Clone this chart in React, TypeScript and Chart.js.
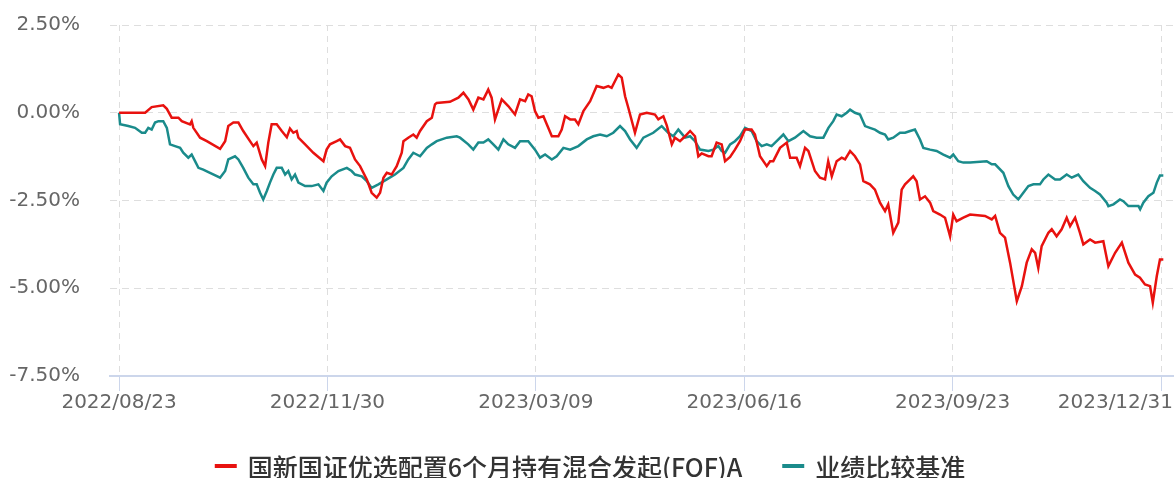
import React, { useEffect, useRef } from "react";
import { Chart, registerables } from "chart.js";

Chart.register(...registerables);

const fundLabel = "国新国证优选配置6个月持有混合发起(FOF)A";
const benchLabel = "业绩比较基准";

// x tick positions: days since 2022/08/23
const tickDays = [0, 99, 198, 297, 396, 495];
const tickLabels = ["2022/08/23", "2022/11/30", "2023/03/09", "2023/06/16", "2023/09/23", "2023/12/31"];

const yTicks = [2.5, 0, -2.5, -5, -7.5];

// Fund: day offset since 2022/08/23, cumulative return (%)
const fundDays = [
  0, 12.4, 15.5, 21, 22.7, 25, 28.2, 29.8, 33.7, 34.5, 35.3, 38.5, 41.7, 48, 50.4, 51.9, 54.3, 56.7, 59, 62.2,
  63.8, 65.4, 67.8, 69.4, 70.9, 72.5, 74.9, 77.3, 79.7, 81.2, 82.8, 84.4, 85.2, 88.4, 92.3, 97.1, 98.6, 100.2, 103.4, 105,
  107.4, 109.7, 112.1, 114.5, 117.7, 120, 122.4, 124, 125.6, 127.2, 129.5, 131.9, 134.3, 135.1, 137.4, 139.8, 141.4, 143, 146.2, 148.6,
  150.1, 150.9, 157.2, 161.2, 163.6, 166, 168.3, 170.7, 173.1, 175.4, 177, 178.6, 181.8, 184.9, 188.1, 190.5, 192.9, 194.4, 196, 197.6,
  199.2, 201.6, 203.2, 205.6, 208.7, 210.3, 211.9, 214.3, 216.6, 218.2, 220.6, 223.8, 226.9, 230.1, 232.4, 234, 237.2, 238.8, 240.4, 241.9,
  245.1, 247.5, 250.7, 254.6, 256.2, 258.6, 260.2, 262.6, 264.1, 266.5, 268.9, 271.3, 273.6, 275.2, 276.8, 280, 281.5, 283.9, 286.3, 287.9,
  290.3, 292.6, 295, 297.4, 300.5, 302.1, 304.5, 307.7, 309.3, 310.8, 314, 317.2, 318.8, 321.9, 323.5, 325.9, 327.5, 330.6, 333, 335.4,
  336.9, 338.6, 340.9, 343.3, 344.9, 347.3, 349.6, 352, 353.6, 356.7, 359.1, 361.5, 363.9, 365.4, 367.8, 370.2, 371.8, 373.4, 375.8, 377.3,
  378.9, 380.5, 382.9, 385.3, 386.8, 390, 392.4, 394.8, 396.3, 397.9, 401.1, 404.3, 411.4, 414.6, 416.2, 418.5, 420.9, 423.3, 426.5, 428.9,
  431.2, 433.6, 435.2, 436.7, 438.3, 441.5, 443.1, 445.4, 447.8, 450.2, 451.8, 454.2, 456.5, 458.1, 461.3, 463.7, 467.6, 470, 473.2, 476.4,
  479.5, 482.7, 485, 487.4, 489.8, 491.1, 493, 494.5, 496.1,
];
const fundValues = [
  0, 0, 0.16, 0.21, 0.11, -0.14, -0.14, -0.24, -0.33, -0.24, -0.43, -0.71, -0.81, -1.03, -0.81, -0.38, -0.28, -0.28, -0.52, -0.81,
  -0.95, -0.85, -1.33, -1.52, -0.85, -0.33, -0.33, -0.52, -0.7, -0.45, -0.57, -0.52, -0.71, -0.9, -1.14, -1.38, -1.05, -0.9, -0.81, -0.76,
  -0.95, -1.0, -1.33, -1.52, -1.9, -2.28, -2.42, -2.28, -1.85, -1.71, -1.76, -1.52, -1.14, -0.81, -0.71, -0.62, -0.71, -0.52, -0.24, -0.14,
  0.24, 0.28, 0.31, 0.43, 0.57, 0.38, 0.09, 0.43, 0.38, 0.66, 0.43, -0.19, 0.38, 0.19, -0.05, 0.38, 0.33, 0.52, 0.47, 0.05,
  -0.14, -0.1, -0.33, -0.67, -0.67, -0.48, -0.1, -0.19, -0.19, -0.33, 0.05, 0.33, 0.76, 0.71, 0.76, 0.71, 1.09, 1.0, 0.47, 0.15,
  -0.57, -0.05, 0.0, -0.05, -0.19, -0.1, -0.36, -0.9, -0.71, -0.81, -0.67, -0.52, -0.67, -1.24, -1.16, -1.24, -1.24, -0.85, -0.9, -1.38,
  -1.26, -1.05, -0.81, -0.48, -0.48, -0.62, -1.24, -1.52, -1.38, -1.38, -1.0, -0.85, -1.28, -1.28, -1.52, -1.0, -1.09, -1.66, -1.85, -1.9,
  -1.38, -1.81, -1.38, -1.28, -1.33, -1.09, -1.24, -1.47, -1.95, -2.04, -2.19, -2.56, -2.8, -2.61, -3.42, -3.13, -2.19, -2.04, -1.9, -1.81,
  -1.95, -2.47, -2.38, -2.56, -2.8, -2.9, -2.99, -3.52, -2.9, -3.09, -2.99, -2.9, -2.94, -3.04, -2.94, -3.42, -3.56, -4.27, -5.37, -4.94,
  -4.27, -3.89, -3.99, -4.42, -3.8, -3.42, -3.32, -3.52, -3.32, -2.99, -3.23, -2.99, -3.42, -3.75, -3.61, -3.7, -3.66, -4.37, -3.99, -3.7,
  -4.27, -4.61, -4.7, -4.89, -4.94, -5.41, -4.65, -4.18, -4.18,
];

// Benchmark: day offset since 2022/08/23, cumulative return (%)
const benchDays = [
  0, 0.5, 4.4, 7.6, 10.8, 12.4, 13.9, 15.5, 17.1, 18.7, 21, 22.7, 24.2, 26.6, 29, 30.5, 32.9, 34.5, 36.1, 37.7,
  40, 43.2, 48, 50.4, 51.9, 55.1, 56.7, 59, 61.4, 63.8, 65.4, 67, 68.5, 70.2, 71.7, 73.3, 74.9, 77.3, 78.9, 80.4,
  82, 83.6, 85.2, 88.4, 91.5, 94.7, 97.1, 98.6, 101, 104.2, 108.2, 110.5, 112.1, 115.3, 117.7, 120, 123.2, 127.2, 131.1, 135.1,
  137.4, 139.8, 143, 146.2, 148.6, 150.9, 155.7, 160.4, 162, 165.9, 168.3, 170.7, 173.1, 175.4, 177.8, 180.2, 182.6, 184.9, 188.1, 190.5,
  194.4, 197.6, 200, 202.4, 205.6, 207.9, 211.1, 214.3, 218.2, 222.2, 225.3, 228.5, 231.7, 234.8, 238, 240.4, 242.8, 245.9, 249.1, 253.8,
  257.8, 260.9, 263.3, 265.7, 268.9, 271.3, 273.6, 276, 280, 282.3, 284.7, 286.3, 287.9, 290.3, 292.6, 295, 297.4, 300.5, 302.9, 305.3,
  307.7, 310, 312.4, 315.6, 318, 321.1, 325.1, 328.3, 331.4, 334.6, 337, 339.3, 340.9, 343.3, 345.7, 347.3, 349.6, 352, 354.4, 356.7,
  359.1, 361.5, 363.9, 365.4, 367.8, 371, 373.4, 375.8, 378.1, 380.5, 382.1, 385.3, 388.4, 391.6, 394.8, 396.3, 398.7, 401.1, 404.3, 412.2,
  414.6, 416.2, 420.1, 422.5, 424.8, 427.2, 429.6, 432, 434.4, 437.5, 439.1, 441.5, 444.7, 447, 450.2, 452.6, 455.7, 458.1, 461.3, 463.7,
  466, 469.2, 470, 472.4, 475.5, 477.1, 479.5, 484.3, 485.1, 486.6, 489, 491.4, 493, 494.5, 496.1,
];
const benchValues = [
  0, -0.33, -0.38, -0.43, -0.57, -0.57, -0.43, -0.48, -0.28, -0.24, -0.24, -0.43, -0.9, -0.95, -1.0, -1.14, -1.28, -1.19, -1.38, -1.57,
  -1.62, -1.71, -1.85, -1.66, -1.33, -1.24, -1.33, -1.57, -1.85, -2.04, -2.04, -2.28, -2.47, -2.23, -1.99, -1.76, -1.57, -1.57, -1.76, -1.66,
  -1.9, -1.76, -1.99, -2.09, -2.09, -2.04, -2.23, -1.99, -1.81, -1.66, -1.57, -1.66, -1.76, -1.81, -1.95, -2.14, -2.04, -1.9, -1.76, -1.57,
  -1.33, -1.14, -1.24, -1.0, -0.9, -0.81, -0.71, -0.67, -0.71, -0.9, -1.05, -0.85, -0.85, -0.76, -0.9, -1.05, -0.76, -0.9, -1.0, -0.81,
  -0.81, -1.05, -1.28, -1.19, -1.33, -1.24, -1.0, -1.05, -0.95, -0.76, -0.67, -0.62, -0.67, -0.57, -0.38, -0.52, -0.76, -1.0, -0.71, -0.57,
  -0.38, -0.57, -0.67, -0.48, -0.71, -0.67, -0.81, -1.05, -1.09, -1.05, -0.95, -1.09, -1.14, -0.9, -0.81, -0.67, -0.43, -0.52, -0.81, -0.95,
  -0.9, -0.95, -0.81, -0.62, -0.81, -0.71, -0.52, -0.67, -0.71, -0.71, -0.43, -0.24, -0.05, -0.1, 0.0, 0.09, 0.0, -0.05, -0.38, -0.43,
  -0.48, -0.57, -0.62, -0.76, -0.71, -0.57, -0.57, -0.52, -0.48, -0.76, -1.0, -1.05, -1.09, -1.19, -1.28, -1.19, -1.38, -1.42, -1.42, -1.38,
  -1.47, -1.47, -1.71, -2.09, -2.33, -2.47, -2.28, -2.09, -2.04, -2.04, -1.9, -1.76, -1.9, -1.9, -1.76, -1.85, -1.76, -1.95, -2.14, -2.23,
  -2.33, -2.56, -2.66, -2.61, -2.47, -2.52, -2.66, -2.66, -2.75, -2.56, -2.38, -2.28, -1.99, -1.79, -1.79,
];

const fundColor = "#e8120f";
const benchColor = "#1a8b8b";
const axisFont = "'DejaVu Sans', sans-serif";
const legendFont = "'Noto Sans CJK SC', sans-serif";

const toPoints = (xs: number[], ys: number[]) => xs.map((x, i) => ({ x, y: ys[i] }));

const xLabelPlugin = {
  id: "xLabels",
  afterDraw(chart: any) {
    const ctx = chart.ctx;
    const scale = chart.scales.x;
    const area = chart.chartArea;
    ctx.save();
    ctx.font = `20px ${axisFont}`;
    ctx.fillStyle = "#666666";
    ctx.textBaseline = "middle";
    ctx.textAlign = "left";
    tickDays.forEach((d, i) => {
      const label = tickLabels[i];
      const w = ctx.measureText(label).width;
      const px = scale.getPixelForValue(d);
      let left = px - w / 2;
      if (left + w > chart.width - 1) left = chart.width - 1 - w;
      if (left < 0) left = 0;
      ctx.fillText(label, left, area.bottom + 27);
    });
    ctx.restore();
  },
};

const legendPlugin = {
  id: "bottomLegend",
  afterDraw(chart: any) {
    const ctx = chart.ctx;
    ctx.save();
    ctx.font = `500 25px ${legendFont}`;
    ctx.textBaseline = "middle";
    ctx.textAlign = "left";
    const items = chart.data.datasets.map((ds: any) => ({ label: ds.label, color: ds.borderColor }));
    const markerW = 22;
    const markerGap = 11;
    const itemGap = 40;
    const widths = items.map((it: any) => markerW + markerGap + ctx.measureText(it.label).width);
    const total = widths.reduce((a: number, b: number) => a + b, 0) + itemGap * (items.length - 1);
    let x = (chart.width - total) / 2 + 3;
    const y = chart.height - 12;
    items.forEach((it: any, i: number) => {
      ctx.strokeStyle = it.color;
      ctx.lineWidth = 4;
      ctx.beginPath();
      ctx.moveTo(x, y);
      ctx.lineTo(x + markerW, y);
      ctx.stroke();
      ctx.fillStyle = "#333333";
      ctx.fillText(it.label, x + markerW + markerGap, y + 1);
      x += widths[i] + itemGap;
    });
    ctx.restore();
  },
};

export default function App() {
  const canvasRef = useRef<HTMLCanvasElement | null>(null);

  useEffect(() => {
    if (!canvasRef.current) return;
    const chart = new Chart(canvasRef.current, {
      type: "line",
      data: {
        datasets: [
          {
            label: fundLabel,
            data: toPoints(fundDays, fundValues),
            borderColor: fundColor,
            backgroundColor: fundColor,
            borderWidth: 2.5,
            pointRadius: 0,
            tension: 0,
            fill: false,
          },
          {
            label: benchLabel,
            data: toPoints(benchDays, benchValues),
            borderColor: benchColor,
            backgroundColor: benchColor,
            borderWidth: 2.5,
            pointRadius: 0,
            tension: 0,
            fill: false,
          },
        ],
      },
      options: {
        animation: false,
        responsive: true,
        maintainAspectRatio: false,
        parsing: false,
        normalized: true,
        layout: { padding: { top: 25, right: 1, bottom: 0, left: 0 } },
        plugins: {
          legend: { display: false },
          tooltip: { enabled: false },
          title: { display: false },
        },
        scales: {
          x: {
            type: "linear",
            min: -4.3,
            max: 500.7,
            afterBuildTicks: (s: any) => {
              s.ticks = tickDays.map((v) => ({ value: v }));
            },
            afterFit: (s: any) => {
              s.height = 102;
              s.paddingLeft = 0;
              s.paddingRight = 0;
            },
            ticks: { display: false, autoSkip: false },
            grid: {
              color: "#dedede",
              lineWidth: 1,
              drawTicks: true,
              tickLength: 15,
              tickColor: "#ccd6eb",
              tickBorderDash: [],
            },
            border: { display: true, color: "#ccd6eb", width: 2, dash: [6, 5] },
          },
          y: {
            type: "linear",
            min: -7.5,
            max: 2.5,
            afterBuildTicks: (s: any) => {
              s.ticks = yTicks.map((v) => ({ value: v }));
            },
            afterFit: (s: any) => {
              s.width = 110;
              s.paddingTop = 0;
              s.paddingBottom = 0;
            },
            ticks: {
              padding: 30,
              color: "#666666",
              font: { family: axisFont, size: 20 },
              callback: (v: any) => Number(v).toFixed(2) + "%",
            },
            grid: { color: "#dedede", lineWidth: 1, drawTicks: false },
            border: { display: false, dash: [7, 5] },
          },
        },
      },
      plugins: [xLabelPlugin, legendPlugin],
    });
    return () => chart.destroy();
  }, []);

  return (
    <div style={{ position: "fixed", left: 0, top: 0, width: 1174, height: 478, background: "#ffffff" }}>
      <canvas ref={canvasRef} />
    </div>
  );
}
